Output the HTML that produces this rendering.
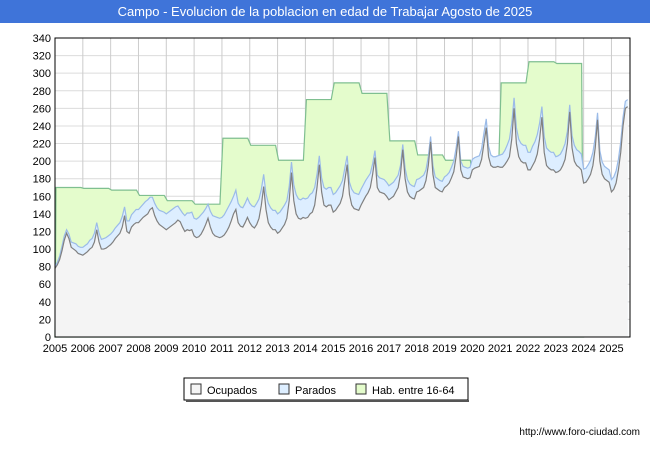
<!DOCTYPE html>
<html><head><meta charset="utf-8">
<style>
body{margin:0;background:#fff;font-family:"Liberation Sans",sans-serif;}
#wrap{position:relative;width:650px;height:450px;overflow:hidden;}
#title{position:absolute;left:0;top:0;width:650px;height:23px;background:#3f74d9;color:#fff;font-size:13px;text-align:center;line-height:23px;}
#url{position:absolute;right:10px;top:427px;font-size:10px;color:#000;}
</style></head><body>
<div id="wrap">
<div id="title">Campo - Evolucion de la poblacion en edad de Trabajar Agosto de 2025</div>
<svg id="svg" width="650" height="450" style="position:absolute;left:0;top:0"></svg>
<div id="url">http://www.foro-ciudad.com</div>
</div>
<script>
const years=[2005,2006,2007,2008,2009,2010,2011,2012,2013,2014,2015,2016,2017,2018,2019,2020,2021,2022,2023,2024,2025];
const habValues=[170,169,167,161,155,151,226,218,201,270,289,277,223,207,201,175,289,313,311,null,null];
const ocupados=[
78,82,88,98,110,118,112,102,100,98,95,94,
93,95,97,100,102,108,122,108,100,100,101,103,
105,108,112,115,118,125,138,120,118,125,128,130,
130,133,136,138,140,145,147,138,132,128,126,124,
122,124,126,128,130,133,131,125,120,122,121,122,
115,113,114,117,122,128,135,125,118,115,114,113,
114,116,120,125,132,140,145,130,126,125,130,136,
130,126,124,128,135,150,171,145,130,125,122,122,
118,120,124,128,135,155,187,155,140,135,134,136,
135,136,140,142,150,170,196,165,150,148,150,150,
142,144,148,152,160,178,196,162,150,146,145,144,
150,155,160,164,170,185,204,170,165,164,163,160,
156,158,160,165,170,185,213,180,165,160,158,157,
165,166,168,170,178,195,222,185,170,168,166,165,
170,172,175,181,188,205,228,190,182,181,180,181,
190,192,193,194,202,220,238,205,195,193,193,194,
193,193,196,200,205,225,260,220,205,200,198,198,
190,190,195,200,208,225,250,210,195,192,190,190,
187,188,190,195,202,220,256,215,200,195,193,190,
175,176,180,185,195,215,247,200,185,180,178,176,
165,168,175,190,210,240,260,262];
const parados=[
2,3,4,5,5,4,5,6,7,8,8,8,
9,9,9,10,10,10,8,10,11,12,12,12,
12,12,12,12,12,12,10,12,14,14,14,15,
15,15,15,16,16,14,12,14,15,16,17,18,
18,18,18,18,18,16,14,16,18,19,20,20,
20,21,22,22,20,18,16,18,20,22,22,22,
22,23,24,24,22,20,22,22,22,22,22,22,
22,23,24,24,22,18,14,18,22,22,22,22,
22,22,22,22,20,16,12,18,22,22,22,22,
22,22,22,22,20,15,10,16,20,20,20,20,
20,20,20,20,18,14,10,14,18,18,18,18,
18,18,18,18,16,12,8,14,16,16,16,16,
16,16,16,15,14,10,6,12,14,14,14,14,
14,14,14,14,12,10,6,10,12,12,12,12,
12,12,12,12,12,10,6,10,12,12,12,12,
12,12,12,12,12,12,10,12,12,12,12,12,
14,15,16,18,20,18,12,18,20,20,20,20,
20,20,22,22,22,18,12,18,20,20,20,20,
18,18,18,18,18,14,8,14,18,18,18,18,
16,16,16,16,15,12,8,12,14,14,14,14,
14,14,14,12,12,10,8,8];
const yTicks=[0,20,40,60,80,100,120,140,160,180,200,220,240,260,280,300,320,340];
const legendLabels=["Ocupados","Parados","Hab. entre 16-64"];

const svg=document.getElementById('svg');
const NS='http://www.w3.org/2000/svg';
const X0=55,X1=630,Y0=337,Y1=38,YMAX=340;
const yearW=(X1-X0)/(years.length-1+8/12);
function xs(i){return X0+i/12*yearW;}
function ys(v){return Y0-v/YMAX*(Y0-Y1);}
function mk(t,a){const e=document.createElementNS(NS,t);for(const k in a)e.setAttribute(k,a[k]);svg.appendChild(e);return e;}

const bg=mk('rect',{x:X0,y:Y1,width:X1-X0,height:Y0-Y1,fill:'#fff'});


yTicks.forEach(v=>{
 const l=mk('line',{x1:X0,x2:X1,y1:ys(v),y2:ys(v),stroke:'#dcdcdc','stroke-width':1});
 
 
 const t=mk('text',{x:X0-4,y:ys(v)+4,'text-anchor':'end','font-size':11,fill:'#000'});
 t.textContent=v;
 
 
});
years.forEach((yr,k)=>{
 const x=X0+k*yearW;
 const l=mk('line',{x1:x,x2:x,y1:Y1,y2:Y0,stroke:'#cccccc','stroke-width':1});
 
 
 const t=mk('text',{x:x,y:Y0+15,'text-anchor':'middle','font-size':11,fill:'#000'});
 t.textContent=yr;
 
 
});
let segs=[];
habValues.forEach((v,k)=>{if(v!=null)segs.push([k,v]);});
let hp='M'+xs(0)+','+Y0;
segs.forEach(([k,v])=>{hp+=' L'+(X0+k*yearW+1)+','+ys(v)+' L'+(X0+(k+1)*yearW-2)+','+ys(v);});
const lastK=segs[segs.length-1][0];
hp+=' L'+(X0+(lastK+1)*yearW)+','+Y0+' Z';
const hab=mk('path',{d:hp,fill:'#e4fccc',stroke:'#7fbf90','stroke-width':1.2});


function areaPath(vals){let d='M'+xs(0)+','+Y0;vals.forEach((v,i)=>{d+=' L'+xs(i).toFixed(2)+','+ys(v).toFixed(2);});d+=' L'+xs(vals.length-1)+','+Y0+' Z';return d;}
function linePath(vals){let d='';vals.forEach((v,i)=>{d+=(i?' L':'M')+xs(i).toFixed(2)+','+ys(v).toFixed(2);});return d;}
const total=ocupados.map((v,i)=>v+(parados[i]||0));
const pa=mk('path',{d:areaPath(total),fill:'#ddeeff',stroke:'none'});


const pl=mk('path',{d:linePath(total),fill:'none',stroke:'#9bbbe8','stroke-width':1.2});


const oa=mk('path',{d:areaPath(ocupados),fill:'#f4f4f4',stroke:'none'});


const ol=mk('path',{d:linePath(ocupados),fill:'none',stroke:'#808080','stroke-width':1.2});


const fr=mk('rect',{x:X0,y:Y1,width:X1-X0,height:Y0-Y1,fill:'none',stroke:'#000','stroke-width':1});


const lg=mk('rect',{x:184,y:378,width:284,height:22,fill:'#fff',stroke:'#000','stroke-width':1});


mk('line',{x1:186,y1:401,x2:469,y2:401,stroke:'#555','stroke-width':2});
const lcols=['#f4f4f4','#ddeeff','#e4fccc'];
const lx=[191,279,356];
legendLabels.forEach((s,k)=>{
 const r=mk('rect',{x:lx[k],y:384,width:10,height:10,fill:lcols[k],stroke:'#333','stroke-width':1});
 
 
 const t=mk('text',{x:lx[k]+16,y:394,'font-size':11,fill:'#000'});
 t.textContent=s;
 
 
});
</script>
</body></html>
